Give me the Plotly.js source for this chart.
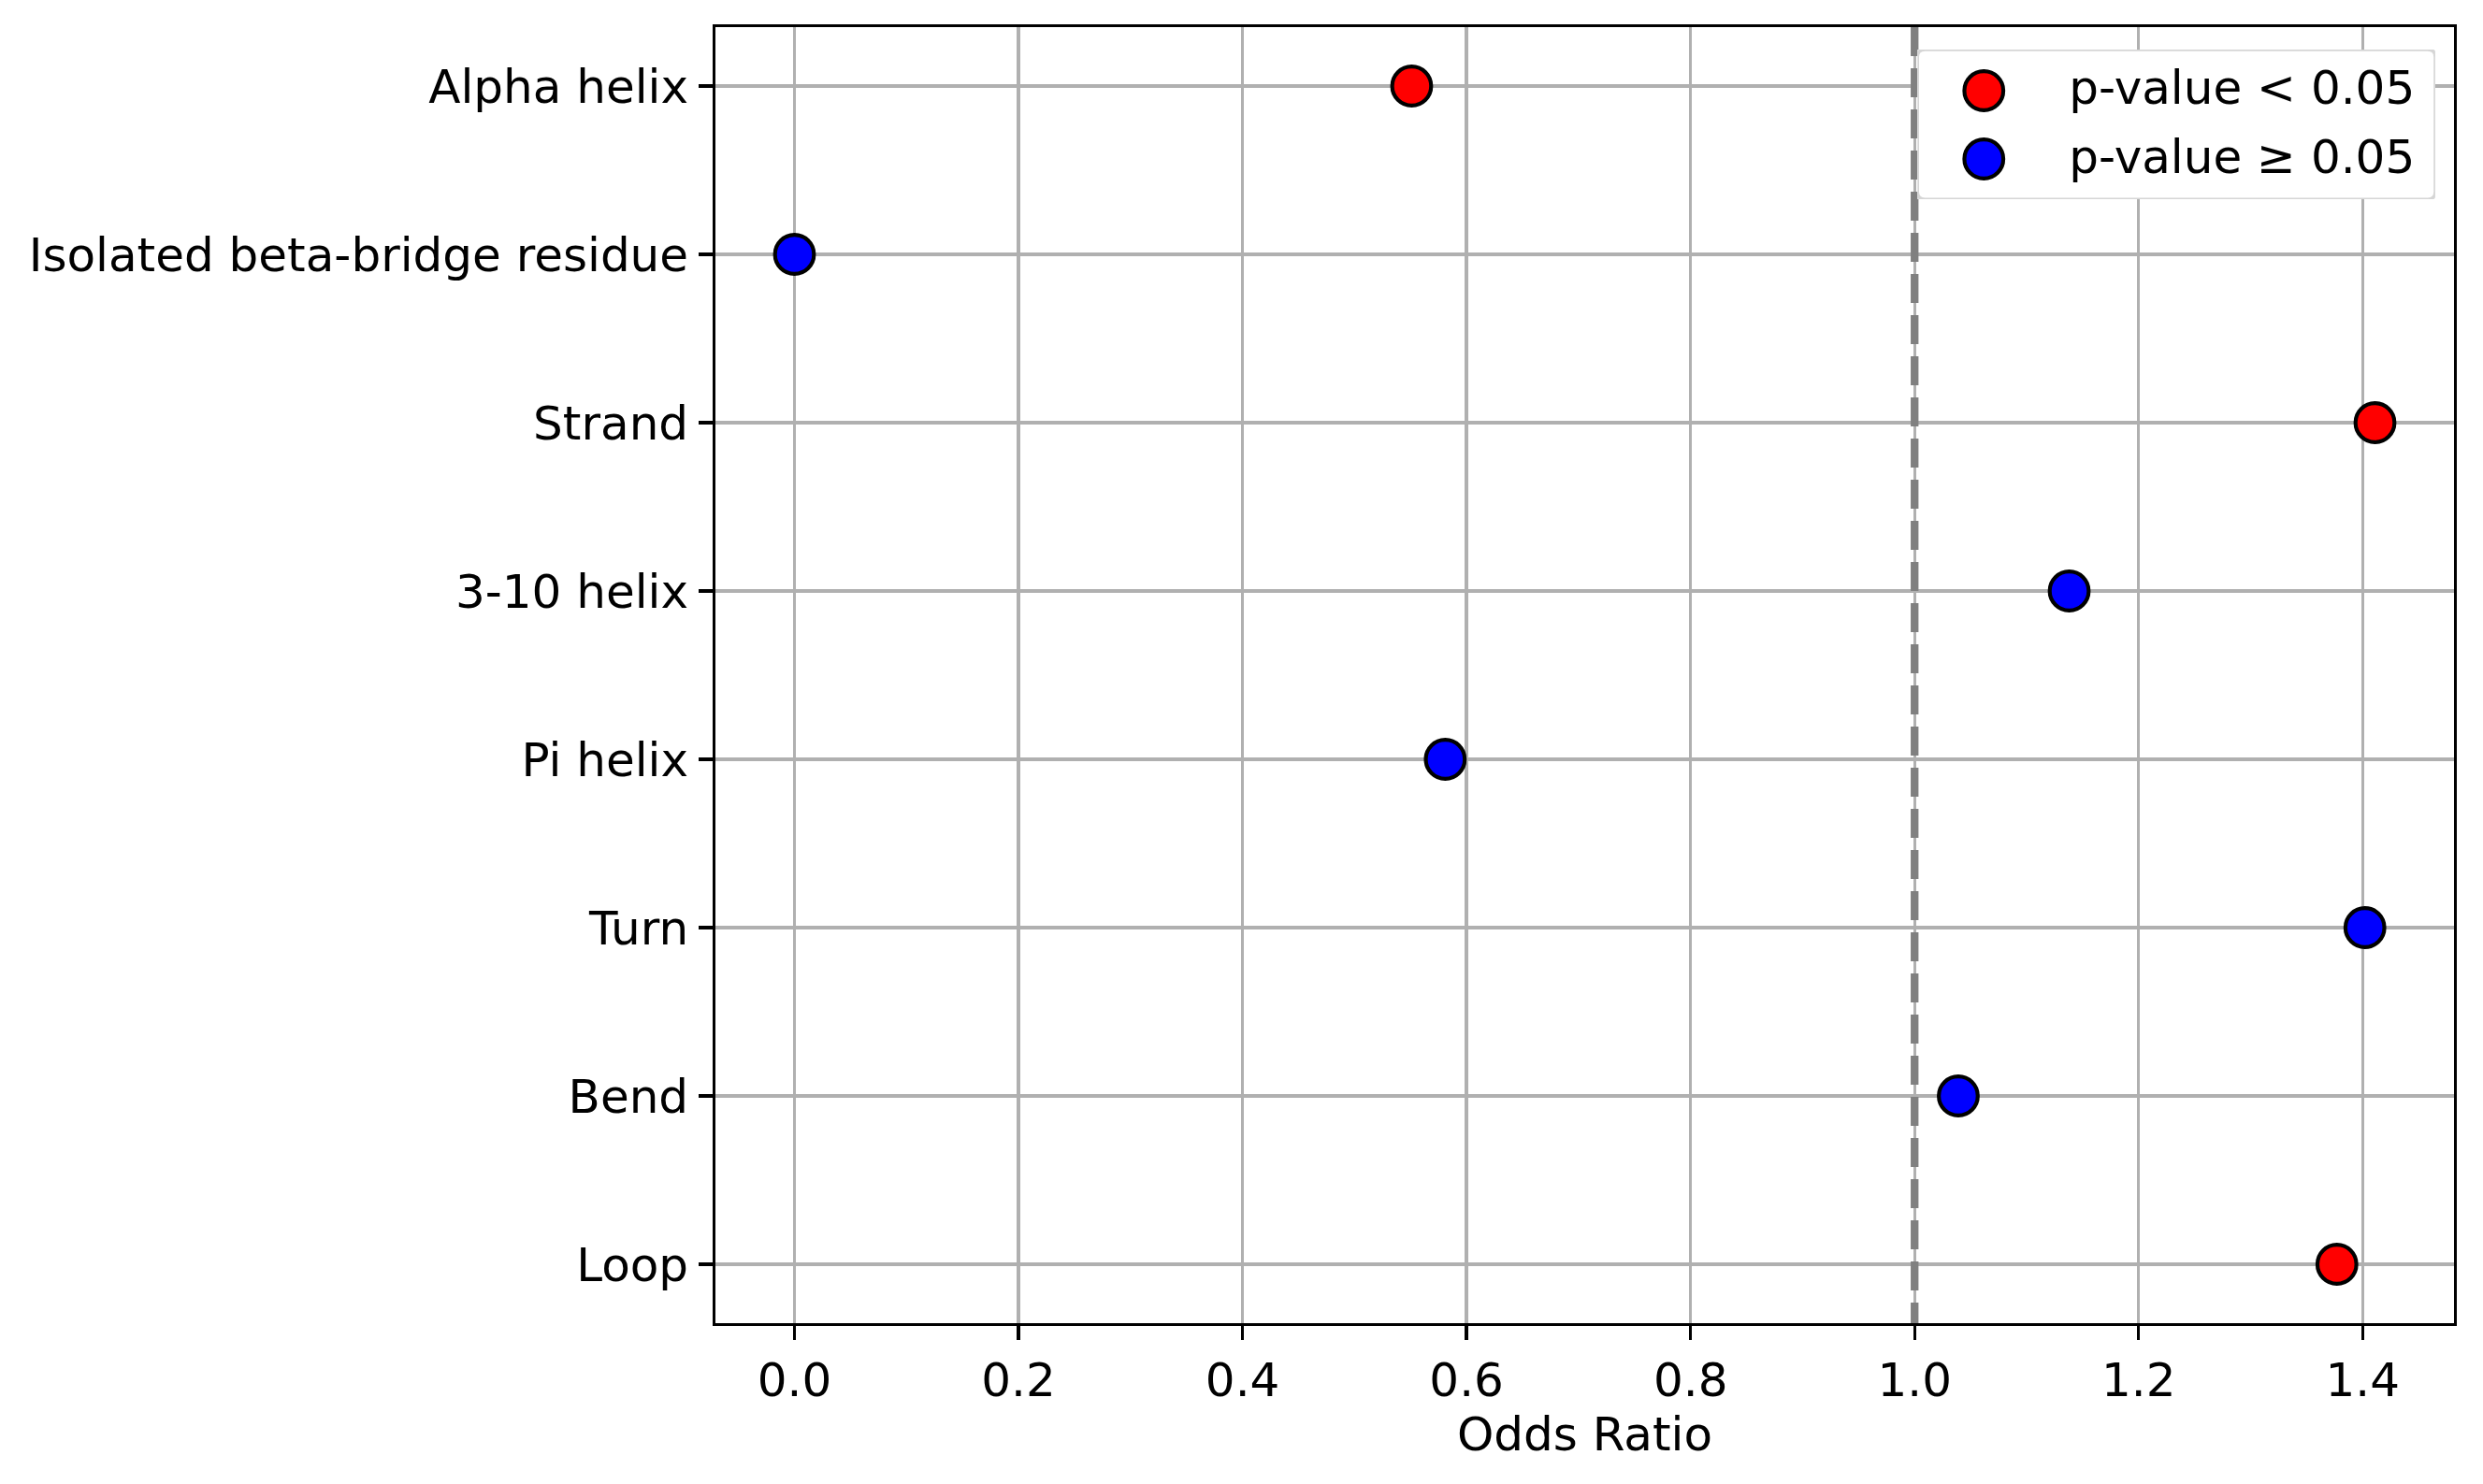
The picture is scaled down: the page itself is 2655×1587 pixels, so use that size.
<!DOCTYPE html>
<html>
<head>
<meta charset="utf-8">
<script src="https://cdn.plot.ly/plotly-3.0.1.min.js"></script>
<style>
  html, body { margin: 0; padding: 0; background: #fff; }
  #chart { width: 2655px; height: 1587px; }
</style>
</head>
<body>
<div id="chart"></div>
<script>
// secondary structure classes, top to bottom
const categories = ['Alpha helix', 'Isolated beta-bridge residue', 'Strand', '3-10 helix',
                    'Pi helix', 'Turn', 'Bend', 'Loop'];
const oddsRatios = [0.551, 0.0, 1.411, 1.138, 0.581, 1.402, 1.039, 1.377];
const significant = [true, false, true, false, false, false, false, true];

const legendLabels = ['p-value < 0.05', 'p-value ≥ 0.05'];
const legendColors = ['red', 'blue'];

const FONT = 'DejaVu Sans';
const PX = 300 / 72;   // points -> pixels at 300 dpi

function pick(flag) {
    const x = [], y = [];
    categories.forEach((c, i) => {
        if (significant[i] === flag) { x.push(oddsRatios[i]); y.push(c); }
    });
    return { x, y };
}

const markerStyle = color => ({
    color: color,
    size: 10 * PX,
    line: { color: 'black', width: 1 * PX }
});

const sig = pick(true);
const nonSig = pick(false);

const traces = [
    { x: sig.x, y: sig.y, type: 'scatter', mode: 'markers', name: legendLabels[0],
      marker: markerStyle(legendColors[0]), showlegend: false, cliponaxis: false },
    { x: nonSig.x, y: nonSig.y, type: 'scatter', mode: 'markers', name: legendLabels[1],
      marker: markerStyle(legendColors[1]), showlegend: false, cliponaxis: false },
    // hand-made legend living on its own small axes
    { x: [71, 71], y: [44, 117], xaxis: 'x2', yaxis: 'y2', type: 'scatter', mode: 'markers',
      marker: { color: legendColors, size: 10 * PX, line: { color: 'black', width: 1 * PX } },
      showlegend: false, hoverinfo: 'skip' },
    { x: [162, 162], y: [46, 119], xaxis: 'x2', yaxis: 'y2', type: 'scatter', mode: 'text',
      text: legendLabels, textposition: 'middle right',
      textfont: { family: FONT, size: 50, color: 'black' },
      showlegend: false, hoverinfo: 'skip', cliponaxis: false }
];

const xMax = Math.max(...oddsRatios), xMin = Math.min(...oddsRatios);
const pad = (xMax - xMin) * 0.05;
const nCat = categories.length;

// legend frame with rounded corners, in legend-axis units
const W = 554, H = 160, R = 8;
const framePath = `M ${R},0 L ${W - R},0 Q ${W},0 ${W},${R} L ${W},${H - R} Q ${W},${H} ${W - R},${H} ` +
                  `L ${R},${H} Q 0,${H} 0,${H - R} L 0,${R} Q 0,0 ${R},0 Z`;

const layout = {
    width: 2655,
    height: 1587,
    margin: { l: 765, r: 31, t: 29, b: 172 },
    paper_bgcolor: 'white',
    plot_bgcolor: 'white',
    font: { family: FONT, size: 50, color: 'black' },
    showlegend: false,
    xaxis: {
        range: [xMin - pad, xMax + pad],
        tickvals: [0, 0.2, 0.4, 0.6, 0.8, 1.0, 1.2, 1.4],
        ticktext: ['0.0', '0.2', '0.4', '0.6', '0.8', '1.0', '1.2', '1.4'],
        ticks: 'outside', ticklen: 3.5 * PX, tickwidth: 0.8 * PX, tickcolor: 'black',
        showline: true, linecolor: 'black', linewidth: 0.8 * PX, mirror: true,
        showgrid: true, gridcolor: '#b0b0b0', gridwidth: 0.8 * PX,
        zeroline: false,
        tickfont: { family: FONT, size: 50 },
        title: { text: 'Odds Ratio', font: { family: FONT, size: 50 }, standoff: 13 }
    },
    yaxis: {
        type: 'category',
        categoryorder: 'array',
        categoryarray: categories,
        range: [nCat - 1 + 0.35, -0.35],
        ticks: 'outside', ticklen: 3.5 * PX, tickwidth: 0.8 * PX, tickcolor: 'black',
        showline: true, linecolor: 'black', linewidth: 0.8 * PX, mirror: true,
        showgrid: true, gridcolor: '#b0b0b0', gridwidth: 0.8 * PX,
        zeroline: false,
        tickfont: { family: FONT, size: 50 },
        ticklabelstandoff: 1
    },
    xaxis2: {
        domain: [0.6914, 0.9892], anchor: 'y2', range: [0, W],
        visible: false, fixedrange: true
    },
    yaxis2: {
        domain: [0.8672, 0.9827], anchor: 'x2', range: [H, 0],
        visible: false, fixedrange: true
    },
    shapes: [
        // reference line at OR = 1
        { type: 'line', xref: 'x', yref: 'y', x0: 1, x1: 1, y0: -0.35, y1: nCat - 1 + 0.35,
          layer: 'between', line: { color: 'gray', width: 2 * PX, dash: '31px,13px' } },
        // legend frame
        { type: 'path', xref: 'x2', yref: 'y2', path: framePath,
          layer: 'below', fillcolor: 'rgba(255,255,255,0.8)',
          line: { color: '#d6d6d6', width: 0.8 * PX } }
    ]
};

Plotly.newPlot('chart', traces, layout, { displayModeBar: false, staticPlot: true });
</script>
</body>
</html>
